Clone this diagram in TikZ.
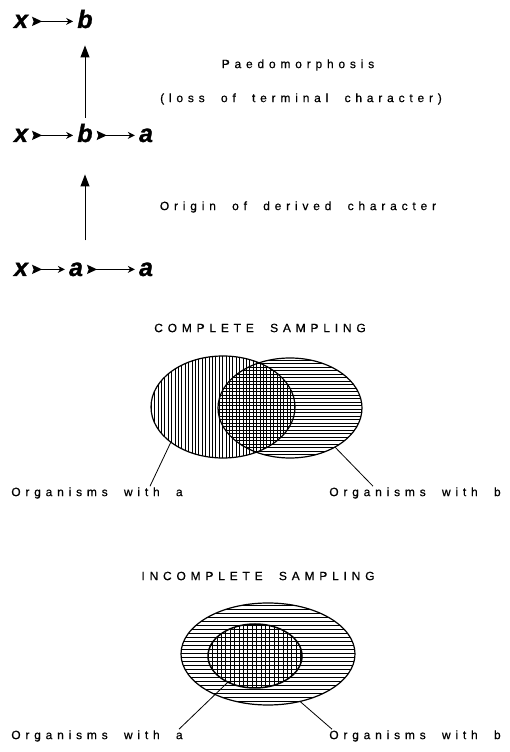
\documentclass[tikz,border=0pt]{standalone}
\usepackage{fontspec}
\setmainfont{Liberation Sans}
\newfontfamily\tracked[LetterSpace=40,WordSpace=2,FakeBold=0.6]{Liberation Sans}
\newfontfamily\heavy[FakeBold=1.2]{Liberation Sans}
\usetikzlibrary{arrows.meta,shapes.geometric}
\tikzset{
  state/.style={font=\heavy\fontsize{25}{25}\selectfont\bfseries\itshape,inner sep=1pt,anchor=base},
  % feathered transformation arrow between two character states
  feather/.style={line width=1.6pt,shorten <=3pt,shorten >=3pt,
                  {Stealth[reversed,length=10pt,width=9pt,inset=1.5pt]}-{Stealth[length=7pt,width=7pt]}},
  rise/.style={line width=0.9pt,-{Triangle[length=12pt,width=9pt]}},
  caption/.style={font=\tracked\fontsize{12}{14}\selectfont,inner sep=1pt},
  setnode/.style={ellipse,draw,line width=1.2pt,inner sep=0,outer sep=0},
  leader/.style={line width=0.8pt},
  hatch/.style={line width=0.45pt},
  % ruling inside an ellipse, vertical or horizontal
  vlines/.style={path picture={
    \foreach \k in {0,...,60}
      \draw[hatch] ([xshift=\k*#1]path picture bounding box.south west) -- ([xshift=\k*#1]path picture bounding box.north west);}},
  hlines/.style={path picture={
    \foreach \k in {0,...,40}
      \draw[hatch] ([yshift=\k*#1]path picture bounding box.south west) -- ([yshift=\k*#1]path picture bounding box.south east);}},
}
\begin{document}
\begin{tikzpicture}[x=1pt,y=1pt]
  \useasboundingbox (0,0) rectangle (510,752);

  % character transformation series
  \node[state] (tx) at (21,724) {x};
  \node[state] (tb) at (85,724) {b};
  \node[state] (mx) at (21,610) {x};
  \node[state] (mb) at (85,610) {b};
  \node[state] (ma) at (146,610) {a};
  \node[state] (bx) at (21,476) {x};
  \node[state] (ba) at (76,476) {a};
  \node[state] (bb) at (146,476) {a};
  \draw[feather] (tx.east) -- (tx.east -| tb.west);
  \draw[feather] (mx.east) -- (mx.east -| mb.west);
  \draw[feather] (mx.east -| mb.east) -- (mx.east -| ma.west);
  \draw[feather] (bx.east) -- (bx.east -| ba.west);
  \draw[feather] (ba.east) -- (ba.east -| bb.west);

  \draw[rise,shorten <=5pt,shorten >=16pt] (tb |- mb.north) -- (tb.south);
  \draw[rise,shorten <=21pt,shorten >=31pt] (mb |- ba.north) -- (mb.south);

  \node[caption] (paedo) at (298,687) {Paedomorphosis};
  \node[caption] (loss) at (301,653) {(loss of terminal character)};
  \node[caption] (origin) at (298,545) {Origin of derived character};

  % complete sampling: two overlapping sets
  \node[caption] (full) at (260,424) {COMPLETE SAMPLING};
  \node[setnode,minimum width=144pt,minimum height=102pt,vlines=3.4pt] (setA) at (223,345) {};
  \node[setnode,minimum width=144pt,minimum height=100pt,hlines=3.5pt] (setB) at (290,344) {};
  \node[caption] (orgA) at (97,259) {Organisms with a};
  \node[caption] (orgB) at (415,259) {Organisms with b};
  \draw[leader] (setA.214) -- ([xshift=53pt]orgA.north);
  \draw[leader] (setB.319) -- ([xshift=-42pt]orgB.north);

  % incomplete sampling: a nested inside b
  \node[caption] (part) at (258,176) {INCOMPLETE SAMPLING};
  \node[setnode,minimum width=174pt,minimum height=102pt,hlines=4pt] (whole) at (268,98) {};
  \node[setnode,line width=1.5pt,minimum width=94pt,minimum height=64pt,vlines=4.4pt] (core) at (255,96) {};
  \node[caption] (subA) at (97,16) {Organisms with a};
  \node[caption] (subB) at (415,16) {Organisms with b};
  \draw[leader] (core.224) -- ([xshift=82pt]subA.north);
  \draw[leader] (whole.304) -- ([xshift=-83pt]subB.north);
\end{tikzpicture}
\end{document}
